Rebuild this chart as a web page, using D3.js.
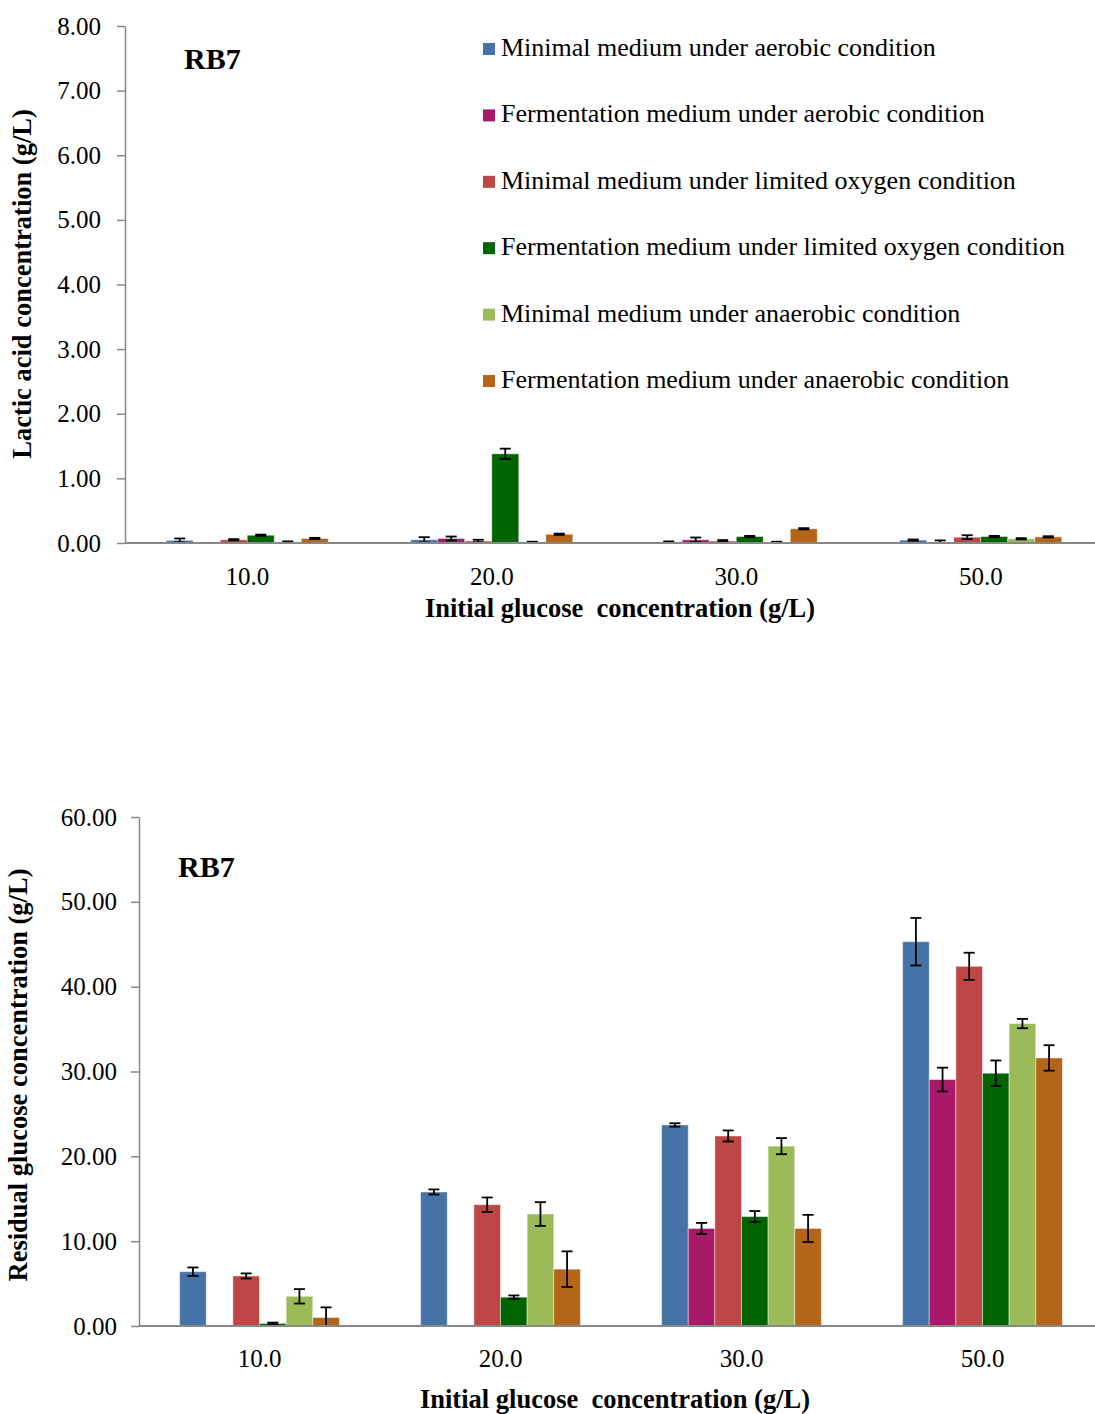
<!DOCTYPE html>
<html>
<head>
<meta charset="utf-8">
<script src="https://cdn.jsdelivr.net/npm/d3@7"></script>
<style>
  html, body { margin: 0; padding: 0; background: #fff; }
  svg { display: block; }
  text { font-family: "Liberation Serif", "Times New Roman", serif; fill: #000; }
</style>
</head>
<body>
<svg id="chart" width="1095" height="1414"></svg>
<script>
// Initial glucose concentrations (g/L)
const categories = ["10.0", "20.0", "30.0", "50.0"];

const seriesNames = [
  "Minimal medium under aerobic condition",
  "Fermentation medium under aerobic condition",
  "Minimal medium under limited oxygen condition",
  "Fermentation medium under limited oxygen condition",
  "Minimal medium under anaerobic condition",
  "Fermentation medium under anaerobic condition"
];

const seriesColors = ["#4673A7", "#A8196A", "#BE4644", "#006400", "#9BBB59", "#B46518"];

// Lactic acid (g/L): one row per series, one value per category
const lacticValues = [
  [0.04, 0.05, 0.015, 0.045],
  [0.01, 0.07, 0.05, 0.01],
  [0.05, 0.03, 0.03, 0.09],
  [0.12, 1.38, 0.10, 0.10],
  [0.015, 0.01, 0.01, 0.065],
  [0.07, 0.135, 0.22, 0.095]
];
const lacticErrors = [
  [0.03, 0.04, 0.01, 0.01],
  [0.00, 0.03, 0.035, 0.03],
  [0.01, 0.02, 0.015, 0.03],
  [0.01, 0.08, 0.01, 0.01],
  [0.01, 0.01, 0.01, 0.01],
  [0.01, 0.01, 0.01, 0.01]
];

// Residual glucose (g/L)
const glucoseValues = [
  [6.4, 15.8, 23.7, 45.3],
  [0.05, 0.05, 11.5, 29.05],
  [5.9, 14.3, 22.4, 42.4],
  [0.3, 3.4, 12.9, 29.8],
  [3.5, 13.2, 21.2, 35.65],
  [1.0, 6.7, 11.5, 31.6]
];
const glucoseErrors = [
  [0.5, 0.3, 0.2, 2.8],
  [0.0, 0.0, 0.65, 1.4],
  [0.3, 0.85, 0.65, 1.6],
  [0.1, 0.2, 0.65, 1.5],
  [0.85, 1.4, 0.95, 0.55],
  [1.2, 2.1, 1.6, 1.5]
];

const lacticTicks = [0, 1, 2, 3, 4, 5, 6, 7, 8];
const glucoseTicks = [0, 10, 20, 30, 40, 50, 60];

const svg = d3.select("#chart");
const axisColor = "#888888";

function drawPanel(cfg) {
  const g = svg.append("g");
  const x0 = d3.scaleBand().domain(categories).range([cfg.left, cfg.right]).padding(0);
  const bw = x0.bandwidth();
  const gw = bw * 0.663;
  const x1 = d3.scaleBand().domain(d3.range(seriesNames.length))
    .range([(bw - gw) / 2, (bw + gw) / 2]).padding(0);
  const y = d3.scaleLinear().domain(cfg.domain).range([cfg.bottom, cfg.top]);

  // y axis
  const yAxis = g.append("g")
    .attr("transform", `translate(${cfg.left},0)`)
    .call(d3.axisLeft(y).tickValues(cfg.ticks).tickFormat(d3.format(".2f"))
      .tickSize(8).tickSizeOuter(0).tickPadding(cfg.tickPad));
  yAxis.select(".domain").attr("stroke", axisColor).attr("stroke-width", 1.5);
  yAxis.selectAll(".tick line").attr("stroke", axisColor).attr("stroke-width", 1.5);
  yAxis.selectAll(".tick text").attr("font-size", cfg.tickFont)
    .attr("font-family", "Liberation Serif, serif").attr("fill", "#000");

  // bars
  seriesNames.forEach((name, si) => {
    const data = categories.map((c, ci) => ({
      c, v: cfg.values[si][ci], e: cfg.errors[si][ci]
    }));
    const sg = g.append("g");
    sg.selectAll("rect").data(data).join("rect")
      .attr("x", d => x0(d.c) + x1(si))
      .attr("width", x1.bandwidth())
      .attr("y", d => y(d.v))
      .attr("height", d => y(0) - y(d.v))
      .attr("fill", seriesColors[si])
      .attr("stroke", "rgba(255,255,255,0.45)")
      .attr("stroke-width", 1);

    // error bars (lower end clipped at zero)
    const eb = sg.selectAll("g.err").data(data.filter(d => d.e > 0)).join("g").attr("class", "err");
    const cx = d => x0(d.c) + x1(si) + x1.bandwidth() / 2;
    eb.append("line")
      .attr("x1", cx).attr("x2", cx)
      .attr("y1", d => y(d.v + d.e)).attr("y2", d => y(Math.max(0, d.v - d.e)))
      .attr("stroke", "#000").attr("stroke-width", 1.8);
    eb.append("line")
      .attr("x1", d => cx(d) - 5.5).attr("x2", d => cx(d) + 5.5)
      .attr("y1", d => y(d.v + d.e)).attr("y2", d => y(d.v + d.e))
      .attr("stroke", "#000").attr("stroke-width", 1.8);
    eb.filter(d => d.v - d.e > 0).append("line")
      .attr("x1", d => cx(d) - 5.5).attr("x2", d => cx(d) + 5.5)
      .attr("y1", d => y(d.v - d.e)).attr("y2", d => y(d.v - d.e))
      .attr("stroke", "#000").attr("stroke-width", 1.8);
  });

  // x axis baseline
  g.append("line")
    .attr("x1", cfg.left).attr("x2", 1095)
    .attr("y1", y(0)).attr("y2", y(0))
    .attr("stroke", axisColor).attr("stroke-width", 2);

  // category labels
  g.selectAll("text.cat").data(categories).join("text").attr("class", "cat")
    .attr("x", d => x0(d) + bw / 2)
    .attr("y", cfg.catY)
    .attr("text-anchor", "middle")
    .attr("font-size", cfg.tickFont)
    .text(d => d);

  // axis titles
  g.append("text")
    .attr("x", cfg.xTitleX).attr("y", cfg.xTitleY)
    .attr("text-anchor", "middle")
    .attr("font-size", 26.5).attr("font-weight", "bold")
    .style("white-space", "pre")
    .text("Initial glucose  concentration (g/L)");

  g.append("text")
    .attr("transform", `translate(${cfg.yTitleX},${cfg.yTitleY}) rotate(-90)`)
    .attr("text-anchor", "middle")
    .attr("font-size", 26.5).attr("font-weight", "bold")
    .text(cfg.yTitle);

  // strain label
  g.append("text")
    .attr("x", cfg.rbX).attr("y", cfg.rbY)
    .attr("font-size", 30).attr("font-weight", "bold")
    .text("RB7");
}

drawPanel({
  left: 125, right: 1103, top: 26, bottom: 543,
  domain: [0, 8], ticks: lacticTicks, tickFont: 25, tickPad: 16,
  values: lacticValues, errors: lacticErrors,
  catY: 585, xTitleX: 620, xTitleY: 617,
  yTitleX: 31, yTitleY: 284, yTitle: "Lactic acid concentration (g/L)",
  rbX: 184, rbY: 69
});

drawPanel({
  left: 139, right: 1103, top: 817, bottom: 1326,
  domain: [0, 60], ticks: glucoseTicks, tickFont: 25, tickPad: 14,
  values: glucoseValues, errors: glucoseErrors,
  catY: 1367, xTitleX: 615, xTitleY: 1408,
  yTitleX: 27, yTitleY: 1075, yTitle: "Residual glucose concentration (g/L)",
  rbX: 178, rbY: 877
});

// legend for the lactic acid panel
const legend = svg.append("g").attr("transform", "translate(483,0)");
const legendY = d3.scaleLinear().domain([0, 5]).range([56, 388]);
seriesNames.forEach((name, i) => {
  const ly = legendY(i);
  legend.append("rect")
    .attr("x", 0).attr("y", ly - 13).attr("width", 12).attr("height", 12)
    .attr("fill", seriesColors[i]);
  legend.append("text")
    .attr("x", 18).attr("y", ly)
    .attr("font-size", 26)
    .text(name);
});
</script>
</body>
</html>
